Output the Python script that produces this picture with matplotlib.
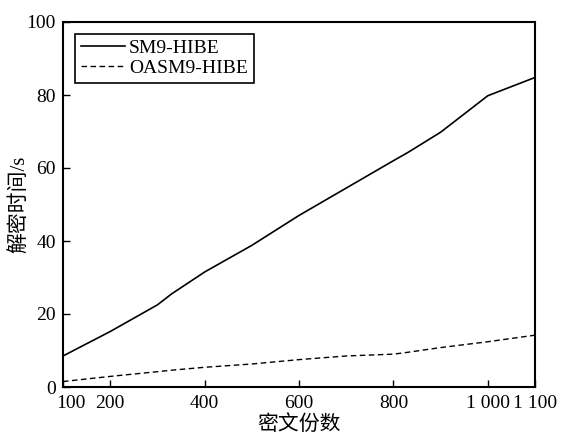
import matplotlib
matplotlib.use("Agg")
import matplotlib.pyplot as plt
import matplotlib.transforms as mtransforms

plt.rcParams['font.family'] = ['Liberation Serif', 'Noto Sans CJK SC']

x = [100, 200, 300, 330, 400, 500, 600, 700, 800, 830, 900, 1000, 1100]
sm9 = [8.5, 15.2, 22.5, 25.5, 31.5, 38.8, 47.0, 54.5, 62.0, 64.2, 69.8, 79.8, 84.8]
oasm9 = [1.5, 2.9, 4.2, 4.6, 5.4, 6.3, 7.5, 8.5, 9.0, 9.5, 10.8, 12.4, 14.2]

xticks = [100, 200, 400, 600, 800, 1000, 1100]
xticklabels = ["100", "200", "400", "600", "800", "1 000", "1 100"]
yticks = [0, 20, 40, 60, 80, 100]

fig = plt.figure(figsize=(5.63, 4.34), dpi=100)
ax = fig.add_axes([63 / 563, 1 - 387 / 434, 472 / 563, 365 / 434])

ax.plot(x, sm9, color="black", lw=1.2, label="SM9-HIBE")
ax.plot(x, oasm9, color="black", lw=1.0, ls=(0, (4, 2.5)), label="OASM9-HIBE")

ax.set_xlim(100, 1100)
ax.set_ylim(0, 100)
ax.set_xticks(xticks, xticklabels)
ax.set_yticks(yticks)
ax.tick_params(direction="in", length=5, width=1, labelsize=14, top=False, right=False)
ax.tick_params(axis="x", pad=6)
ax.tick_params(axis="y", pad=5)
for s in ax.spines.values():
    s.set_linewidth(1.5)

# keep the origin labels apart, as in the reference
lbl = ax.get_xticklabels()[0]
lbl.set_transform(lbl.get_transform() + mtransforms.ScaledTranslation(0.08, 0, fig.dpi_scale_trans))

ax.set_xlabel("密文份数", fontsize=15, labelpad=2)
ax.set_ylabel("解密时间/s", fontsize=15)
ax.yaxis.set_label_coords(-0.072, 0.5)

leg = ax.legend(loc="upper left", fontsize=14, frameon=True, fancybox=False,
                handlelength=2.3, handletextpad=0.2, borderpad=0.3,
                labelspacing=0.1, borderaxespad=0.6)
leg.get_frame().set_edgecolor("black")
leg.get_frame().set_linewidth(1.2)
leg.get_frame().set_alpha(1)

plt.savefig("out.png", dpi=100)
